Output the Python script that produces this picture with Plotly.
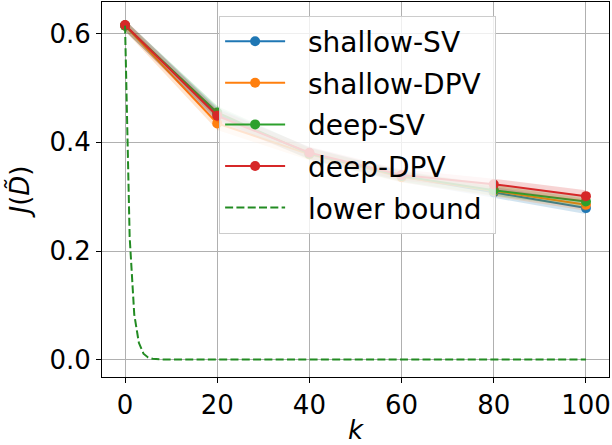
import plotly.graph_objects as go

# values
k = [0, 20, 40, 60, 80, 100]
shallow_sv = [0.615, 0.452, 0.380, 0.337, 0.308, 0.279]
shallow_dpv = [0.615, 0.435, 0.378, 0.336, 0.311, 0.285]
deep_sv = [0.615, 0.455, 0.379, 0.338, 0.312, 0.291]
deep_dpv = [0.616, 0.449, 0.381, 0.340, 0.323, 0.301]
spread = [0.010, 0.012, 0.011, 0.010, 0.010, 0.011]

k_bound = [0, 1, 2, 3, 4, 5, 6, 7, 8, 10, 100]
lower_bound = [0.615, 0.226, 0.083, 0.031, 0.011, 0.004, 0.0015, 0.0006, 0.0002, 0.0, 0.0]

series = [
    ("shallow-SV", shallow_sv, "#1f77b4", "rgba(31,119,180,0.2)"),
    ("shallow-DPV", shallow_dpv, "#ff7f0e", "rgba(255,127,14,0.2)"),
    ("deep-SV", deep_sv, "#2ca02c", "rgba(44,160,44,0.2)"),
    ("deep-DPV", deep_dpv, "#d62728", "rgba(214,39,40,0.2)"),
]

NB = "\u00a0"

fig = go.Figure()

for name, vals, color, band in series:
    upper = [v + s for v, s in zip(vals, spread)]
    lower = [v - s for v, s in zip(vals, spread)]
    # shaded band first, then the line on top
    fig.add_trace(go.Scatter(x=k, y=upper, mode="lines", line=dict(width=0),
                             showlegend=False, hoverinfo="skip"))
    fig.add_trace(go.Scatter(x=k, y=lower, mode="lines", line=dict(width=0),
                             fill="tonexty", fillcolor=band,
                             showlegend=False, hoverinfo="skip"))
    label = NB * 2 + name + (NB if name == "shallow-DPV" else "")
    fig.add_trace(go.Scatter(x=k, y=vals, mode="lines+markers", name=label,
                             legendgroup=name,
                             line=dict(color=color, width=2),
                             marker=dict(color=color, size=10)))

fig.add_trace(go.Scatter(x=k_bound, y=lower_bound, mode="lines",
                         name=NB * 2 + "lower bound", legendgroup="lb",
                         line=dict(color="#228b22", width=2, dash="8px,3.3px")))

axis_common = dict(
    showline=True, linecolor="black", linewidth=1, mirror=True,
    showgrid=True, gridcolor="#b0b0b0", gridwidth=1,
    ticks="outside", ticklen=5, tickcolor="black",
    tickfont=dict(size=26, color="black"),
    zeroline=False,
)

fig.update_layout(
    width=612, height=445,
    margin=dict(l=102, r=3, t=2, b=68),
    paper_bgcolor="white", plot_bgcolor="white",
    font=dict(family="DejaVu Sans", color="black"),
    xaxis=dict(range=[-5, 105], tickvals=[0, 20, 40, 60, 80, 100],
               title=dict(text="<i>k</i>", font=dict(size=26), standoff=4),
               **axis_common),
    yaxis=dict(range=[-0.032, 0.6585], tickvals=[0.0, 0.2, 0.4, 0.6],
               tickformat=".1f",
               title=dict(text="<i>J</i>(<i>D\u0303</i>)", font=dict(size=26), standoff=12),
               **axis_common),
    legend=dict(x=0.231, y=0.964, xanchor="left", yanchor="top",
                font=dict(size=28), bgcolor="rgba(255,255,255,0.8)",
                bordercolor="#cccccc", borderwidth=1,
                itemwidth=60, tracegroupgap=2.2, traceorder="grouped"),
    showlegend=True,
)

fig.write_html("out.html", config={"displayModeBar": False},
               post_script="document.body.style.margin='0';")
